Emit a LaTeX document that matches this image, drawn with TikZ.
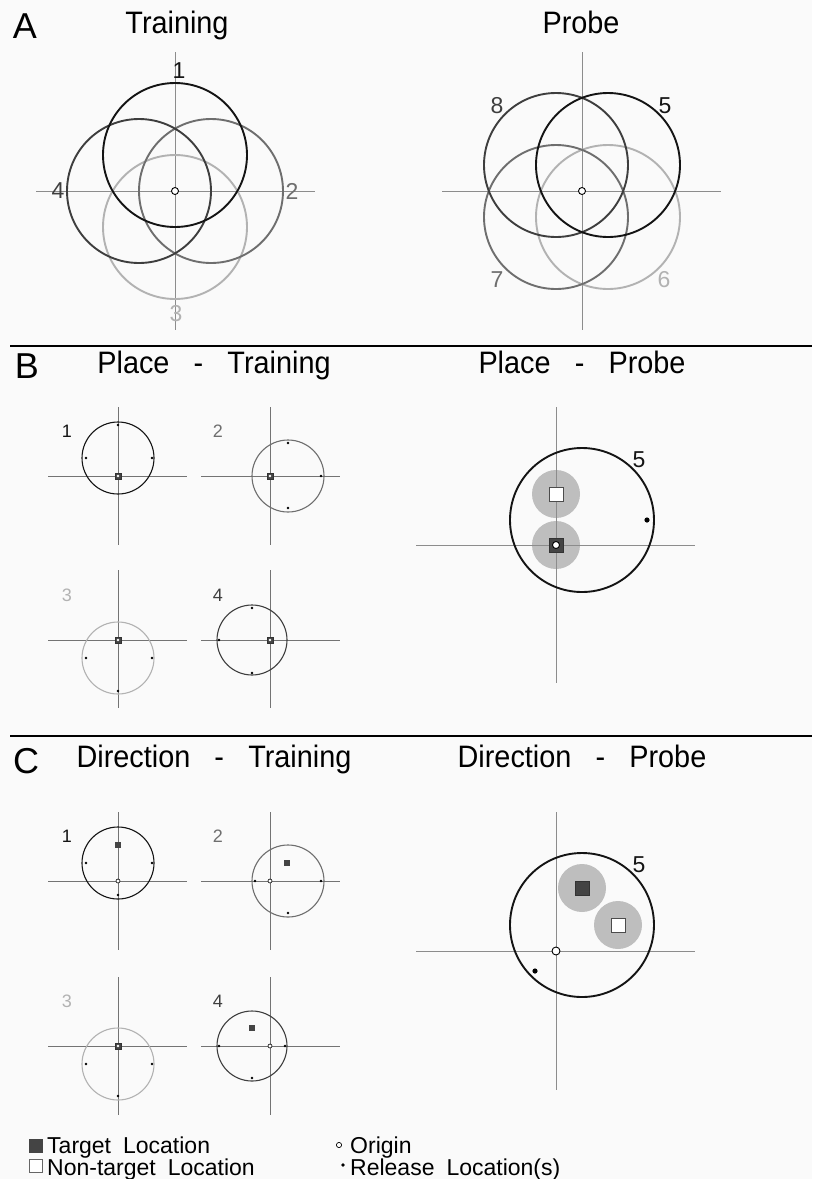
\documentclass[tikz,border=0pt]{standalone}
\usepackage{fontspec}
\setmainfont{Liberation Sans}
\definecolor{bgc}{RGB}{250,250,250}
\definecolor{axc}{RGB}{140,140,140}
\definecolor{kone}{RGB}{20,20,20}
\definecolor{kfour}{RGB}{62,62,62}
\definecolor{ktwo}{RGB}{110,110,110}
\definecolor{kthree}{RGB}{178,178,178}
\definecolor{discc}{RGB}{190,190,190}
\definecolor{tgtc}{RGB}{68,68,68}
\newcommand{\ttlgap}{\hspace{26pt}}
\newcommand{\leggap}{\hspace{12pt}}
\begin{document}
\begin{tikzpicture}[x=1pt,y=-1pt,
  axis/.style={draw=axc,line width=0.9pt},
  bigring/.style={line width=1.9pt},
  smallring/.style={line width=1.1pt},
  divider/.style={line width=2pt,draw=black},
  reldot/.style={fill=black,draw=none},
  orig/.style={draw=black,fill=white,line width=0.9pt},
  tgtsq/.style={fill=tgtc,draw=black!80,line width=0.5pt},
  ntsq/.style={fill=white,draw=black!70,line width=0.7pt},
  disc/.style={fill=discc,draw=none},
  paneltxt/.style={font=\fontsize{36}{40}\selectfont,inner sep=0pt,anchor=base},
  titletxt/.style={font=\fontsize{31}{34}\selectfont,inner sep=0pt,anchor=base},
  biglbl/.style={font=\fontsize{23}{26}\selectfont,inner sep=0pt},
  smalllbl/.style={font=\fontsize{18}{20}\selectfont,inner sep=0pt},
  legtxt/.style={font=\fontsize{23}{20}\selectfont,inner sep=0pt,anchor=north west,align=left}]
\path[fill=bgc] (0,0) rectangle (812,1179);
\useasboundingbox (0,0) rectangle (812,1179);

% ---------- Panel A ----------
\node[paneltxt] (pA) at (25,38) {A};
\node[titletxt] (tAtrain) at (177,33) {\scalebox{0.93}[1]{Training}};
\node[titletxt] (tAprobe) at (581,33) {\scalebox{0.93}[1]{Probe}};
% training
\draw[axis] (36,191) -- (315,191);
\draw[axis] (175,52) -- (175,330);
\draw[bigring,draw=kthree] (175,227) circle[radius=72];
\draw[bigring,draw=ktwo] (211,191) circle[radius=72];
\draw[bigring,draw=kfour] (139,191) circle[radius=72];
\draw[bigring,draw=kone] (175,155) circle[radius=72];
\draw[orig] (175,191) circle[radius=3.5];
\node[biglbl,text=kone] (lA1) at (179,71) {1};
\node[biglbl,text=kfour] (lA4) at (58,191) {4};
\node[biglbl,text=ktwo] (lA2) at (292,191) {2};
\node[biglbl,text=kthree] (lA3) at (176,314) {3};
% probe
\draw[axis] (442,191) -- (721,191);
\draw[axis] (582,52) -- (582,330);
\draw[bigring,draw=kthree] (608,217) circle[radius=72];
\draw[bigring,draw=ktwo] (556,217) circle[radius=72];
\draw[bigring,draw=kfour] (556,165) circle[radius=72];
\draw[bigring,draw=kone] (608,165) circle[radius=72];
\draw[orig] (582,191) circle[radius=3.5];
\node[biglbl,text=kfour] (lA8) at (497,106) {8};
\node[biglbl,text=kone] (lA5) at (665,106) {5};
\node[biglbl,text=ktwo] (lA7) at (497,280) {7};
\node[biglbl,text=kthree] (lA6) at (664,280) {6};

\draw[divider] (10,346) -- (812,346);

% ---------- Panel B ----------
\node[paneltxt] (pB) at (27,378) {B};
\node[titletxt] (tBtrain) at (214,373) {\scalebox{0.93}[1]{Place\ttlgap-\ttlgap Training}};
\node[titletxt] (tBprobe) at (582,373) {\scalebox{0.93}[1]{Place\ttlgap-\ttlgap Probe}};
% sub 1
\draw[axis,draw=black!55] (48,476) -- (187,476);
\draw[axis,draw=black!55] (118,407) -- (118,545);
\draw[smallring,draw=kone] (118,458) circle[radius=36];
\foreach \p in {(118,425),(86,458),(152,458)} \fill[reldot] \p circle[radius=1.4];
\draw[tgtsq] (115,473) rectangle (121,479);
\fill[white] (118,476) circle[radius=1.3];
\node[smalllbl,text=kone] (lB1) at (67,431) {1};
% sub 2
\draw[axis,draw=black!55] (201,476) -- (340,476);
\draw[axis,draw=black!55] (270,407) -- (270,545);
\draw[smallring,draw=ktwo] (288,476) circle[radius=36];
\foreach \p in {(288,443),(321,476),(288,508)} \fill[reldot] \p circle[radius=1.4];
\draw[tgtsq] (267,473) rectangle (273,479);
\fill[white] (270,476) circle[radius=1.3];
\node[smalllbl,text=ktwo] (lB2) at (218,431) {2};
% sub 3
\draw[axis,draw=black!55] (48,640) -- (187,640);
\draw[axis,draw=black!55] (118,570) -- (118,708);
\draw[smallring,draw=kthree] (118,658) circle[radius=36];
\foreach \p in {(86,658),(152,658),(118,691)} \fill[reldot] \p circle[radius=1.4];
\draw[tgtsq] (115,637) rectangle (121,643);
\fill[white] (118,640) circle[radius=1.3];
\node[smalllbl,text=kthree] (lB3) at (67,595) {3};
% sub 4
\draw[axis,draw=black!55] (201,640) -- (340,640);
\draw[axis,draw=black!55] (270,570) -- (270,708);
\draw[smallring,draw=kfour] (252,640) circle[radius=35];
\foreach \p in {(252,608),(252,673),(219,640)} \fill[reldot] \p circle[radius=1.4];
\draw[tgtsq] (267,637) rectangle (273,643);
\fill[white] (270,640) circle[radius=1.3];
\node[smalllbl,text=kfour] (lB4) at (218,595) {4};
% place probe
\fill[disc] (556,494) circle[radius=24];
\fill[disc] (556,545) circle[radius=24];
\draw[axis] (416,545) -- (695,545);
\draw[axis] (556,407) -- (556,683);
\draw[bigring,draw=kone] (582,520) circle[radius=72];
\draw[ntsq] (549,487) rectangle (563,501);
\draw[tgtsq] (549,538) rectangle (563,552);
\draw[orig] (556,545) circle[radius=3.5];
\fill[reldot] (647,520) circle[radius=2.6];
\node[biglbl,text=kone] (lB5) at (639,460) {5};

\draw[divider] (10,736) -- (812,736);

% ---------- Panel C ----------
\node[paneltxt] (pC) at (26,773) {C};
\node[titletxt] (tCtrain) at (214,767) {\scalebox{0.93}[1]{Direction\ttlgap-\ttlgap Training}};
\node[titletxt] (tCprobe) at (582,767) {\scalebox{0.93}[1]{Direction\ttlgap-\ttlgap Probe}};
% sub 1
\draw[axis,draw=black!55] (48,881) -- (187,881);
\draw[axis,draw=black!55] (118,812) -- (118,950);
\draw[smallring,draw=kone] (118,863) circle[radius=36];
\foreach \p in {(86,863),(152,863),(118,895)} \fill[reldot] \p circle[radius=1.4];
\fill[tgtc] (115,842) rectangle (121,848);
\draw[orig,line width=0.6pt] (118,881) circle[radius=2];
\node[smalllbl,text=kone] (lC1) at (67,836) {1};
% sub 2
\draw[axis,draw=black!55] (201,881) -- (340,881);
\draw[axis,draw=black!55] (270,812) -- (270,950);
\draw[smallring,draw=ktwo] (288,881) circle[radius=36];
\foreach \p in {(255,881),(321,881),(288,913)} \fill[reldot] \p circle[radius=1.4];
\fill[tgtc] (284,860) rectangle (290,866);
\draw[orig,line width=0.6pt] (270,881) circle[radius=2];
\node[smalllbl,text=ktwo] (lC2) at (218,836) {2};
% sub 3
\draw[axis,draw=black!55] (48,1046) -- (187,1046);
\draw[axis,draw=black!55] (118,977) -- (118,1115);
\draw[smallring,draw=kthree] (118,1064) circle[radius=36];
\foreach \p in {(86,1064),(152,1064),(118,1096)} \fill[reldot] \p circle[radius=1.4];
\draw[tgtsq] (115,1043) rectangle (121,1049);
\fill[white] (118,1046) circle[radius=1.3];
\node[smalllbl,text=kthree] (lC3) at (67,1001) {3};
% sub 4
\draw[axis,draw=black!55] (201,1046) -- (340,1046);
\draw[axis,draw=black!55] (270,977) -- (270,1115);
\draw[smallring,draw=kfour] (252,1046) circle[radius=35];
\foreach \p in {(219,1046),(285,1046),(252,1078)} \fill[reldot] \p circle[radius=1.4];
\fill[tgtc] (249,1025) rectangle (255,1031);
\draw[orig,line width=0.6pt] (270,1046) circle[radius=2];
\node[smalllbl,text=kfour] (lC4) at (218,1001) {4};
% direction probe
\fill[disc] (582,888) circle[radius=24];
\fill[disc] (618,925) circle[radius=24];
\draw[axis] (416,951) -- (695,951);
\draw[axis] (556,812) -- (556,1090);
\draw[bigring,draw=kone] (582,925) circle[radius=72];
\draw[tgtsq] (575,881) rectangle (589,895);
\draw[ntsq] (611,918) rectangle (625,932);
\draw[orig] (556,951) circle[radius=4];
\fill[reldot] (535,971) circle[radius=2.6];
\node[biglbl,text=kone] (lC5) at (639,865) {5};

% ---------- Legend ----------
\fill[tgtc] (29,1139) rectangle (43,1153);
\draw[ntsq,draw=black!60] (29.5,1159) rectangle (42.5,1172);
\node[legtxt] (legL) at (47,1136.5) {Target\leggap Location\\Non-target\leggap Location};
\draw[orig,line width=0.7pt] (339,1145) circle[radius=2.6];
\fill[reldot] (343,1165) circle[radius=1.8];
\node[legtxt] (legR) at (350,1136.5) {Origin\\Release\leggap Location(s)};
\end{tikzpicture}
\end{document}
